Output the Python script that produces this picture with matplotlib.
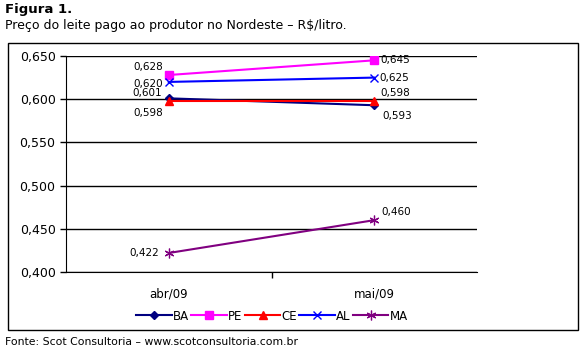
import matplotlib.pyplot as plt
from matplotlib.patches import Rectangle

plt.rcParams.update({
    "font.family": ["DejaVu Sans"],
    "font.size": 8,
})

months = ["abr/09", "mai/09"]
ba = [0.601, 0.593]
pe = [0.628, 0.645]
ce = [0.598, 0.598]
al = [0.620, 0.625]
ma = [0.422, 0.460]

yticks = [0.400, 0.450, 0.500, 0.550, 0.600, 0.650]

# (name, values, color, marker, msize, label offsets in pixels for each point)
series = [
    ("BA", ba, "#000080", "D", 4, [(-22, 5), (23, -11)]),
    ("PE", pe, "#ff00ff", "s", 6, [(-21, 8), (21, 0)]),
    ("CE", ce, "#ff0000", "^", 6, [(-20, -12), (21, 8)]),
    ("AL", al, "#0000ff", "x", 6, [(-21, -2), (20, 0)]),
    ("MA", ma, "#800080", (6, 2, 0), 7, [(-25, 0), (22, 8)]),
]

fig = plt.figure(figsize=(5.87, 3.5), dpi=100)
fig.patches.append(Rectangle((8 / 587, 20 / 350), 570 / 587, 287 / 350,
                             transform=fig.transFigure, fill=False,
                             edgecolor="black", lw=1))
ax = fig.add_axes([66 / 587, 78 / 350, 411 / 587, 216 / 350])

x = list(range(len(months)))
for name, vals, color, marker, ms, offs in series:
    ax.plot(x, vals, color=color, marker=marker, ms=ms, lw=1.5,
            mew=0.9 if isinstance(marker, tuple) else 1,
            label=name, zorder=3)
    for xi, v, (dx, dy) in zip(x, vals, offs):
        ax.annotate(f"{v:.3f}".replace(".", ","), (xi, v), xytext=(dx, dy),
                    textcoords="offset pixels", ha="center", va="center",
                    fontsize=7.5)

ax.set_xlim(-0.5, 1.5)
ax.set_ylim(0.400, 0.650)
ax.set_yticks(yticks)
ax.set_yticklabels([f"{t:.3f}".replace(".", ",") for t in yticks], fontsize=9)
ax.set_xticks([0.5])
ax.set_xticklabels([""])
ax.tick_params(axis="y", direction="out", length=4, width=1)
ax.tick_params(axis="x", direction="out", length=4, width=1)
for xi, m in zip(x, months):
    ax.text(xi, -0.1, m, transform=ax.get_xaxis_transform(), ha="center",
            va="center", fontsize=8.5)
ax.grid(axis="y", color="black", lw=1)
for s in ["top", "right"]:
    ax.spines[s].set_visible(False)
ax.spines["left"].set_color("black")
ax.spines["bottom"].set_color("black")

ax.legend(loc="center", bbox_to_anchor=(272 / 587, 1 - 316 / 350),
          bbox_transform=fig.transFigure, ncol=5, frameon=False,
          fontsize=8.5, handlelength=3, handletextpad=0.1, columnspacing=0.2,
          borderpad=0)

fig.text(5 / 587, 1 - 10 / 350, "Figura 1.", fontsize=9.5, fontweight="bold",
         va="center")
fig.text(5 / 587, 1 - 26 / 350, "Preço do leite pago ao produtor no Nordeste – R$/litro.",
         fontsize=9, va="center")
fig.text(5 / 587, 1 - 342 / 350, "Fonte: Scot Consultoria – www.scotconsultoria.com.br",
         fontsize=7.8, va="center")

fig.savefig("out.png", dpi=100)
